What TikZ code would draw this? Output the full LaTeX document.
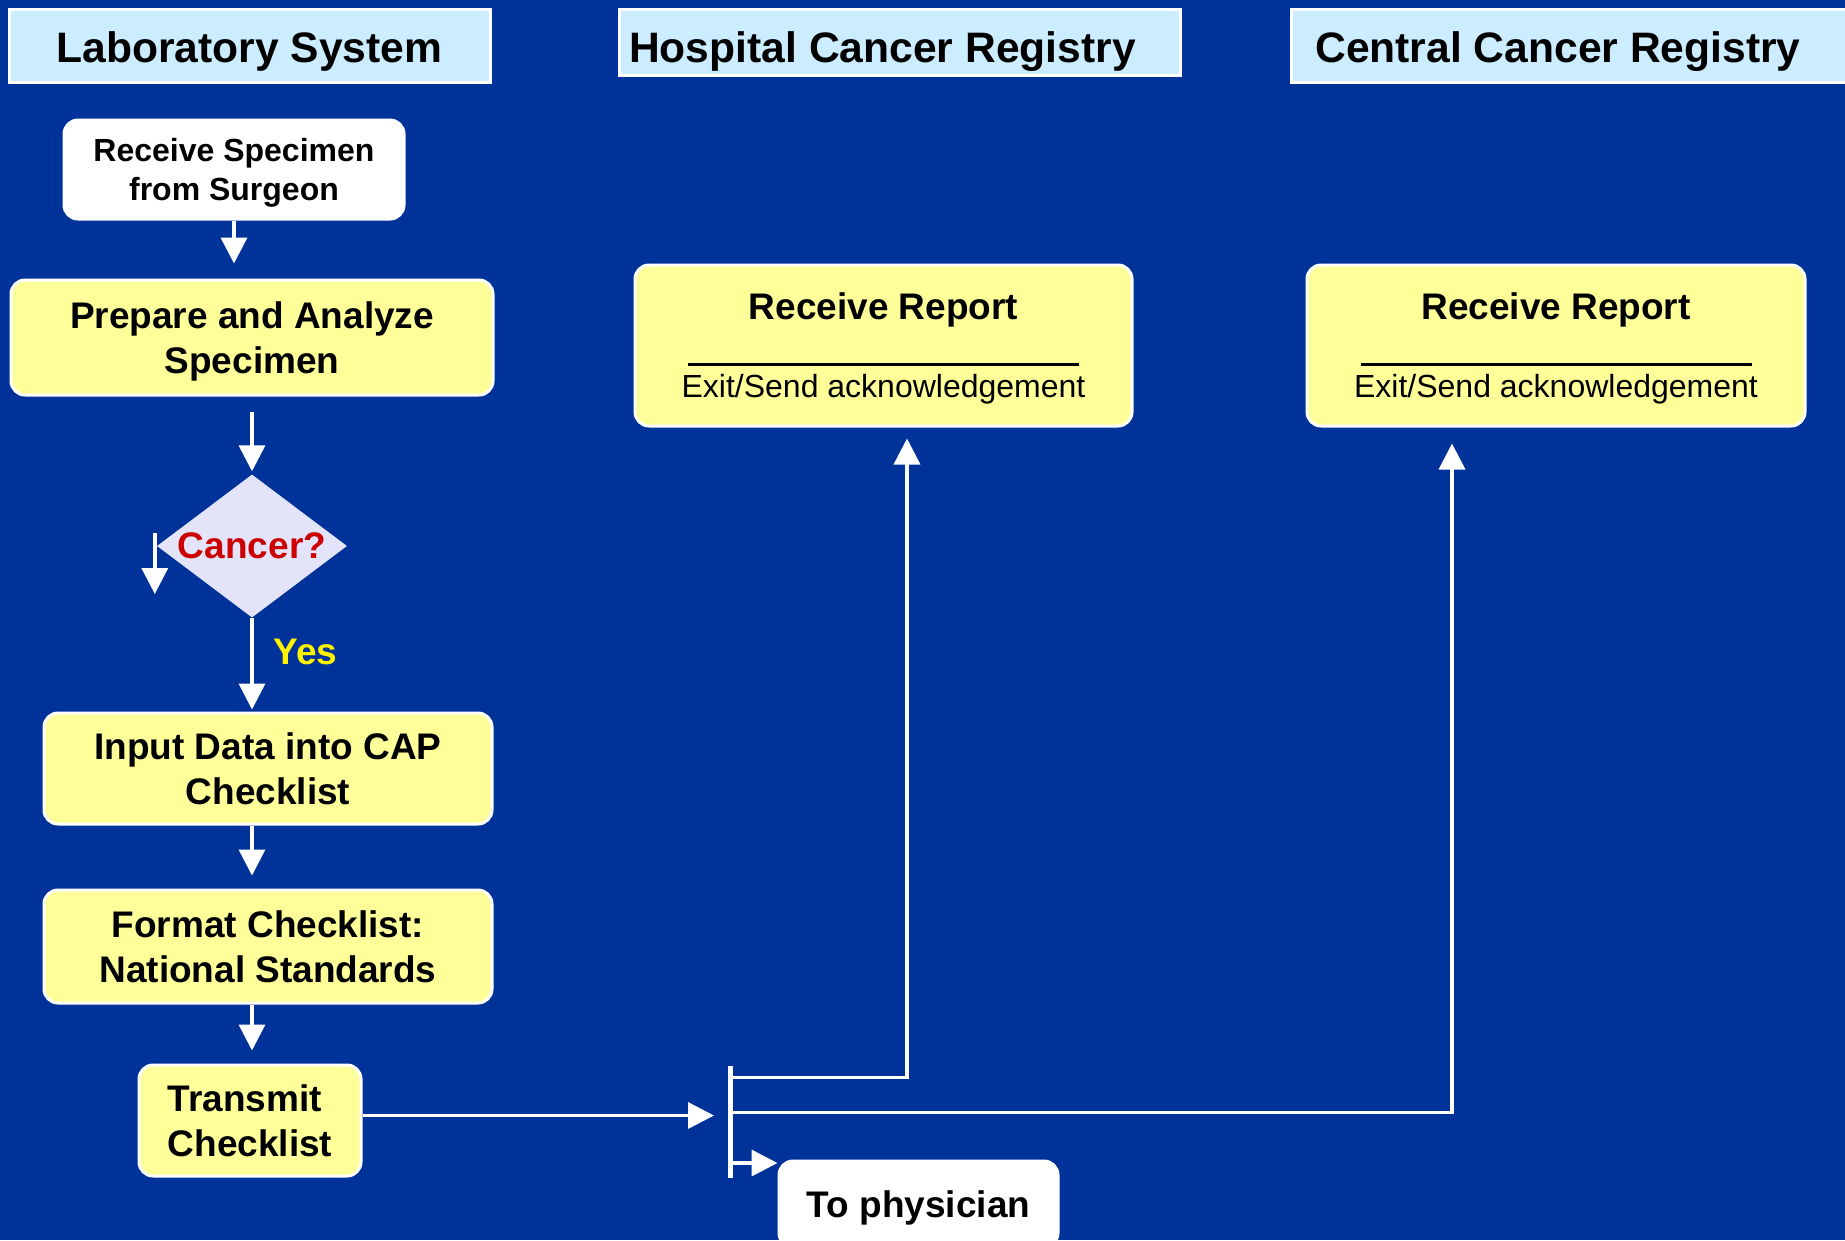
\documentclass[tikz,border=0pt]{standalone}
\usepackage{fontspec}
\setmainfont{Liberation Sans}
\usetikzlibrary{arrows.meta,shapes.geometric,calc}
\definecolor{slideblue}{RGB}{0,51,153}
\definecolor{hdrblue}{RGB}{204,236,255}
\definecolor{boxyellow}{RGB}{255,255,153}
\definecolor{diamfill}{RGB}{227,227,250}
\definecolor{cancred}{RGB}{204,0,0}
\tikzset{
  hdr/.style={draw=white,line width=3pt,fill=hdrblue,inner sep=0pt,text depth=0pt,font=\fontsize{42.6}{48}\selectfont\bfseries},
  ybox/.style={draw=white,line width=3pt,fill=boxyellow,rounded corners=14pt,inner sep=0pt,text depth=0pt,align=center,font=\fontsize{37}{45}\selectfont\bfseries},
  wbox/.style={ybox,fill=white},
  decide/.style={diamond,fill=diamfill,inner sep=0pt,text=cancred,font=\fontsize{37}{45}\selectfont\bfseries},
  yestxt/.style={text=yellow,inner sep=0pt,font=\fontsize{37}{45}\selectfont\bfseries},
  arr/.style={white,line width=3.5pt,-{Triangle[width=26pt,length=26pt]}},
  wline/.style={white,line width=3.5pt},
}
\begin{document}
\begin{tikzpicture}[x=1pt,y=-1pt]
  \useasboundingbox (0,0) rectangle (1845,1240);
  \clip (0,0) rectangle (1845,1240);
  \fill[slideblue] (0,0) rectangle (1845,1240);
  % lane headers
  \node[hdr,text height=33pt,minimum width=481pt,minimum height=73pt] (labhdr) at (249.5,45.5) {Laboratory System};
  \node[hdr,text height=40pt,minimum width=561pt,minimum height=66pt] (hosphdr) at (899.5,42) {Hospital Cancer Registry\hspace*{34pt}};
  \node[hdr,text height=33pt,minimum width=568pt,minimum height=73pt] (centhdr) at (1575,45.5) {Central Cancer Registry\hspace*{34pt}};
  % laboratory steps
  \node[wbox,text depth=-4pt,font=\fontsize{32}{39}\selectfont\bfseries,minimum width=340pt,minimum height=99pt] (spec) at (234,169.5) {Receive Specimen\\from Surgeon};
  \node[ybox,minimum width=482pt,minimum height=115pt] (prep) at (252,337.5) {Prepare and Analyze\\Specimen};
  \node[decide,minimum width=190pt,minimum height=143pt] (cancer) at (252,546) {\makebox[0pt]{Cancer?}};
  \node[ybox,minimum width=448pt,minimum height=111pt] (input) at (268,768.5) {Input Data into CAP\\Checklist};
  \node[ybox,minimum width=448pt,minimum height=113pt] (format) at (268,946.5) {Format Checklist:\\National Standards};
  \node[ybox,align=left,minimum width=222pt,minimum height=111pt] (transmit) at (250,1120.5) {Transmit\\Checklist};
  % registries
  \node[ybox,text depth=-7pt,minimum width=497pt,minimum height=161pt] (hosprep) at (883.5,345.5)
    {Receive Report\\[1pt]\rule{391pt}{3pt}\\[-13pt]{\fontsize{32}{38}\selectfont\mdseries Exit/Send acknowledgement}};
  \node[ybox,text depth=-7pt,minimum width=498pt,minimum height=161pt] (centrep) at (1556,345.5)
    {Receive Report\\[1pt]\rule{391pt}{3pt}\\[-13pt]{\fontsize{32}{38}\selectfont\mdseries Exit/Send acknowledgement}};
  \node[wbox,minimum width=279pt,minimum height=86pt] (phys) at (918.5,1204) {To physician};
  % fork
  \coordinate (forktop) at (730,1066);
  \coordinate (forkbot) at (730,1178);
  \coordinate (mainin) at (730,1115.5);
  \coordinate (hosbr) at (730,1077.5);
  \coordinate (cenbr) at (730,1112.5);
  \coordinate (physbr) at (730,1163);
  \coordinate (nostart) at ($(cancer.west)+(-2,-13)$);
  \coordinate (noend) at ($(cancer.west)+(-2,48)$);
  % connectors
  \draw[arr,shorten >=15pt] (spec.south) -- (spec.south |- prep.north);
  \draw[arr,shorten <=15pt,shorten >=3pt] (prep.south) -- (cancer.north);
  \draw[arr] (nostart) -- (noend);
  \draw[arr,shorten >=2pt] (cancer.south) -- node[yestxt,pos=0.36,anchor=west,xshift=20pt] (yes) {Yes} (input.north -| cancer.south);
  \draw[arr,shorten >=13pt] (input.south -| prep.south) -- (format.north -| prep.south);
  \draw[arr,shorten >=13pt] (format.south -| prep.south) -- (transmit.north -| prep.south);
  \draw[arr,shorten >=16pt] (transmit.east |- mainin) -- (mainin);
  \draw[wline,line width=5pt] (forktop) -- (forkbot);
  \draw[arr,shorten >=11pt] (hosbr) -| ([xshift=23.5pt]hosprep.south);
  \draw[arr,shorten >=16pt] (cenbr) -| ([xshift=-104pt]centrep.south);
  \draw[arr] (physbr) -- (physbr -| phys.west);
\end{tikzpicture}
\end{document}
